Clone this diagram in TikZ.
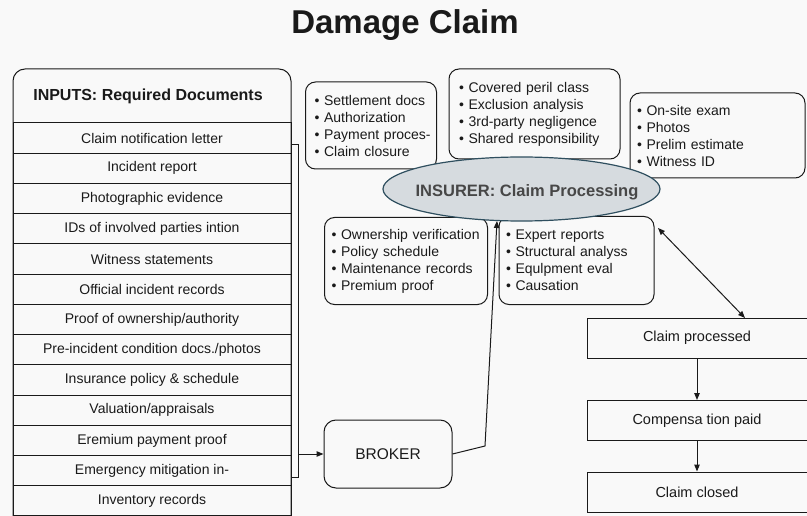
\documentclass[tikz,border=0pt]{standalone}
\usepackage{fontspec}
\setmainfont{Liberation Sans}
\usetikzlibrary{arrows.meta,shapes.geometric}
\definecolor{bg}{HTML}{F9F9F9}
\definecolor{ink}{HTML}{1A1A1A}
\definecolor{insfill}{HTML}{D6DBDF}
\definecolor{insline}{HTML}{2F4F5F}
\definecolor{instext}{HTML}{474747}
\newcommand{\bl}[1]{\mbox{•\ #1}}
\begin{document}
\begin{tikzpicture}[x=1pt,y=-1pt,
  every path/.style={line width=1pt},
  rowbox/.style={draw=ink,rectangle,minimum width=278pt,minimum height=30.23pt,inner sep=0pt,font=\fontsize{14}{16}\selectfont,text=ink},
  bulletbox/.style={draw=ink,rectangle,rounded corners=10pt,inner ysep=0pt,align=left,font=\fontsize{14}{17}\selectfont,text=ink},
  stagebox/.style={draw=ink,rectangle,minimum width=220pt,minimum height=40pt,inner sep=0pt,font=\fontsize{14.5}{17}\selectfont,text=ink},
  arr/.style={draw=ink,-{Triangle[length=7pt,width=5.5pt]}},
  arrtwo/.style={draw=ink,{Triangle[length=7pt,width=5.5pt]}-{Triangle[length=7pt,width=5.5pt]}}
]
\useasboundingbox (0,0) rectangle (807,516);
\fill[bg] (0,0) rectangle (807,516);

% title
\node[font=\fontsize{33}{36}\bfseries\selectfont,text=ink] (title) at (405,25) {Damage Claim};

% inputs table
\draw[ink,rounded corners=12pt] (13,540) -- (13,69) -- (291,69) -- (291,540);
\node[font=\fontsize{16}{18}\bfseries\selectfont,text=ink] (head) at (148,96) {INPUTS: Required Documents};
\foreach \t [count=\i] in {Claim notification letter,Incident report,Photographic evidence,IDs of involved parties intion,Witness statements,Official incident records,Proof of ownership/authority,Pre-incident condition docs./photos,Insurance policy \& schedule,Valuation/appraisals,Eremium payment proof,Emergency mitigation in-,Inventory records}
  \node[rowbox] (r\i) at (152,{123+30.23*\i-15.115}) {\t};

% bullet boxes
\node[bulletbox,minimum width=131pt,minimum height=87pt,text width=113pt,inner xsep=9pt] (bA) at (371,125.5)
  {\bl{Settlement docs}\\\bl{Authorization}\\\bl{Payment proces-}\\\bl{Claim closure}};
\node[bulletbox,minimum width=171pt,minimum height=90pt,text width=151pt,inner xsep=10pt] (bB) at (534.5,114)
  {\bl{Covered peril class}\\\bl{Exclusion analysis}\\\bl{3rd-party negligence}\\\bl{Shared responsibility}};
\node[bulletbox,minimum width=175pt,minimum height=85pt,text width=161pt,inner xsep=7pt] (bC) at (717.5,135.5)
  {\bl{On-site exam}\\\bl{Photos}\\\bl{Prelim estimate}\\\bl{Witness ID}};
\node[bulletbox,minimum width=163pt,minimum height=87pt,text width=149pt,inner xsep=7pt] (bD) at (406,261)
  {\bl{Ownership verification}\\\bl{Policy schedule}\\\bl{Maintenance records}\\\bl{Premium proof}};
\node[bulletbox,minimum width=155pt,minimum height=88pt,text width=141pt,inner xsep=7pt] (bE) at (576.5,260.5)
  {\bl{Expert reports}\\\bl{Structural analyss}\\\bl{Equlpment eval}\\\bl{Causation}};

% insurer ellipse
\node[ellipse,draw=insline,line width=1.2pt,fill=insfill,minimum width=277pt,minimum height=64pt,inner sep=0pt] (ins) at (521.5,189) {};
\node[font=\fontsize{16.5}{18}\bfseries\selectfont,text=instext] (inst) at (527,192) {INSURER: Claim Processing};

% broker
\node[draw=ink,rectangle,rounded corners=12pt,minimum width=128pt,minimum height=68pt,font=\fontsize{15.5}{18}\selectfont,text=ink] (broker) at (388,454) {BROKER};

% stages
\node[stagebox] (cp) at (697,338) {Claim processed};
\node[stagebox] (pay) at (697,420.5) {Compensa tion paid};
\node[stagebox] (cl) at (697,492) {Claim closed};

% connectors
\coordinate (t1) at (298,145);
\coordinate (t2) at (298,477);
\draw[ink] (r1.east |- t1) -- (t1) -- (t2) -- (r12.east |- t2);
\draw[arr] (t1 |- broker.west) -- (broker.west);

\coordinate (k1) at (485,446);
\coordinate (k2) at (497,221);
\draw[arr] (broker.east) -- (k1) -- (k2);

\coordinate (e1) at (658,228);
\coordinate (e2) at (745,318);
\draw[arrtwo] (e1) -- (e2);

\draw[arr] (cp) -- (pay);
\draw[arr] (pay) -- (cl);
\end{tikzpicture}
\end{document}
